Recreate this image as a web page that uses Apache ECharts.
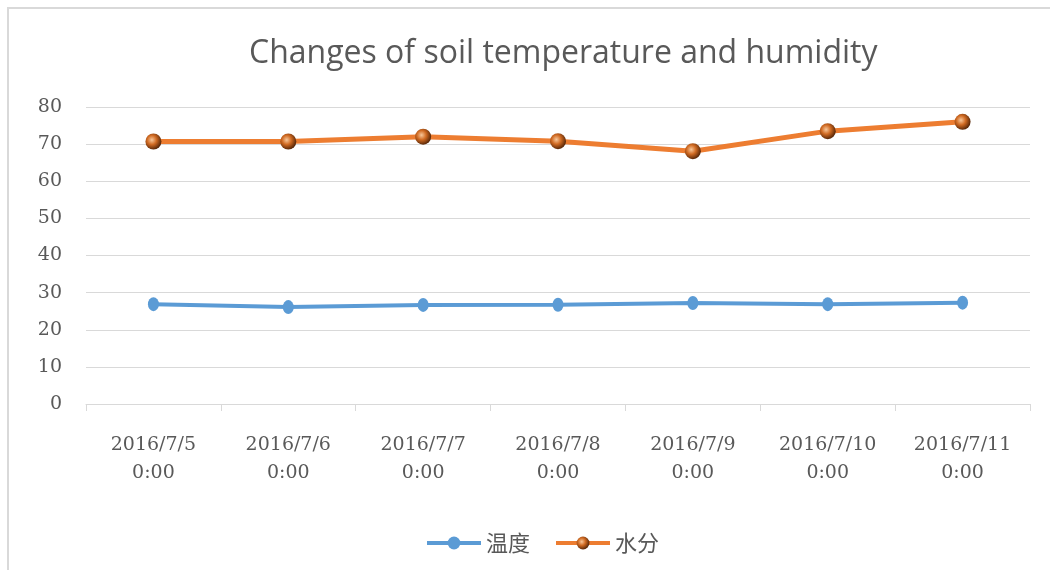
<!DOCTYPE html>
<html><head><meta charset="utf-8">
<script src="https://cdn.jsdelivr.net/npm/echarts@6/dist/echarts.min.js"></script>
<style>html,body{margin:0;padding:0;background:#fff}#c{width:1050px;height:570px}</style>
</head><body><div id="c"></div>
<script>
const categories = ['2016/7/5\n0:00','2016/7/6\n0:00','2016/7/7\n0:00','2016/7/8\n0:00','2016/7/9\n0:00','2016/7/10\n0:00','2016/7/11\n0:00'];
const temperature = [26.9, 26.1, 26.7, 26.75, 27.2, 26.9, 27.3];
const moisture = [70.7, 70.7, 72.0, 70.8, 68.1, 73.5, 76.0];
const seriesNames = ['温度', '水分'];
const titleText = 'Changes of soil temperature and humidity';

const chart = echarts.init(document.getElementById('c'));
const sphere = {
  type: 'radial', x: 0.4, y: 0.4, r: 0.65,
  colorStops: [
    {offset: 0, color: '#f8c79a'},
    {offset: 0.45, color: '#d06a22'},
    {offset: 1, color: '#4a1f05'}
  ]
};
chart.setOption({
  animation: false,
  backgroundColor: '#fff',
  graphic: [{
    type: 'rect', shape: {x: 8, y: 8, width: 1100, height: 620},
    style: {fill: 'none', stroke: '#d9d9d9', lineWidth: 2}
  }],
  title: {
    text: titleText, left: 244, top: 33,
    textStyle: {fontFamily: 'Open Sans', fontWeight: 'normal', fontSize: 32, color: '#595959'}
  },
  grid: {left: 86, right: 20, top: 107, bottom: 166},
  legend: {
    top: 527, left: 420, itemWidth: 54, itemHeight: 16, itemGap: 24,
    lineStyle: {width: 4},
    textStyle: {fontFamily: 'Noto Sans CJK SC', fontSize: 22, color: '#595959'},
    data: seriesNames
  },
  xAxis: {
    type: 'category', data: categories, boundaryGap: true,
    axisLine: {lineStyle: {color: '#d9d9d9', width: 1}},
    axisTick: {show: true, length: 7, lineStyle: {color: '#d9d9d9'}},
    axisLabel: {margin: 27, fontFamily: 'DejaVu Serif', fontSize: 19, color: '#595959', lineHeight: 28}
  },
  yAxis: {
    type: 'value', min: 0, max: 80, interval: 10,
    axisLine: {show: false}, axisTick: {show: false},
    splitLine: {lineStyle: {color: '#d9d9d9', width: 1}},
    axisLabel: {margin: 24, fontFamily: 'DejaVu Serif', fontSize: 19, color: '#595959'}
  },
  series: [
    {
      name: seriesNames[0], type: 'line', data: temperature,
      symbol: 'circle', symbolSize: [11, 14],
      lineStyle: {color: '#5B9BD5', width: 4},
      itemStyle: {color: '#5B9BD5'}
    },
    {
      name: seriesNames[1], type: 'line', data: moisture,
      symbol: 'circle', symbolSize: 16,
      lineStyle: {color: '#ED7D31', width: 5},
      itemStyle: {color: sphere}
    }
  ]
});
</script></body></html>
